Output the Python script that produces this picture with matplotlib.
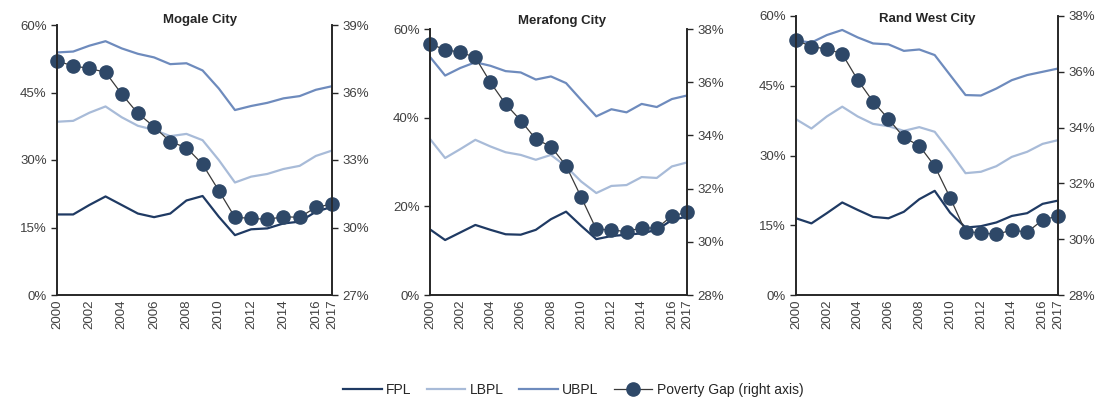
import matplotlib.pyplot as plt
import numpy as np
from matplotlib.ticker import FuncFormatter

plt.rcParams['font.family'] = ['Liberation Sans', 'DejaVu Sans']

years = list(range(2000, 2018))
xtick_years = [2000, 2002, 2004, 2006, 2008, 2010, 2012, 2014, 2016, 2017]

cities = ["Mogale City", "Merafong City", "Rand West City"]

mogale_fpl = [17.9, 17.9, 20.0, 21.9, 20.0, 18.1, 17.3, 18.1, 21.0, 22.0, 17.4, 13.3, 14.6, 14.8, 15.9, 16.3, 18.5, 19.6]
mogale_lbpl = [38.5, 38.7, 40.5, 41.9, 39.5, 37.6, 36.7, 35.3, 35.8, 34.4, 30.0, 25.0, 26.3, 26.9, 28.0, 28.7, 30.9, 32.1]
mogale_ubpl = [53.9, 54.1, 55.4, 56.4, 54.8, 53.6, 52.8, 51.3, 51.5, 49.9, 45.9, 41.1, 42.0, 42.7, 43.7, 44.2, 45.6, 46.4]
mogale_gap = [37.4, 37.18, 37.07, 36.9, 35.93, 35.07, 34.48, 33.81, 33.55, 32.81, 31.64, 30.45, 30.41, 30.36, 30.48, 30.45, 30.9, 31.04]

merafong_fpl = [14.8, 12.4, 14.1, 15.8, 14.7, 13.7, 13.6, 14.7, 17.1, 18.8, 15.6, 12.6, 13.3, 13.6, 13.9, 14.7, 16.9, 17.7]
merafong_lbpl = [35.2, 30.9, 32.9, 35.0, 33.5, 32.2, 31.6, 30.5, 31.6, 29.0, 25.6, 23.0, 24.6, 24.8, 26.6, 26.4, 29.0, 29.9]
merafong_ubpl = [53.7, 49.5, 51.2, 52.5, 51.7, 50.5, 50.2, 48.6, 49.3, 47.8, 44.0, 40.3, 41.9, 41.2, 43.1, 42.4, 44.2, 45.0]
merafong_gap = [37.44, 37.22, 37.13, 36.93, 35.99, 35.18, 34.56, 33.86, 33.58, 32.86, 31.68, 30.47, 30.45, 30.38, 30.53, 30.51, 30.97, 31.11]

randwest_fpl = [16.5, 15.4, 17.6, 19.9, 18.3, 16.8, 16.5, 17.9, 20.6, 22.4, 17.7, 14.5, 14.8, 15.6, 17.0, 17.6, 19.6, 20.3]
randwest_lbpl = [37.8, 35.8, 38.4, 40.5, 38.4, 36.8, 36.3, 35.3, 36.1, 35.1, 30.8, 26.2, 26.5, 27.7, 29.7, 30.8, 32.5, 33.3]
randwest_ubpl = [54.7, 54.3, 55.9, 57.0, 55.4, 54.1, 53.9, 52.5, 52.8, 51.6, 47.3, 43.0, 42.9, 44.4, 46.2, 47.3, 48.0, 48.7]
randwest_gap = [37.14, 36.9, 36.82, 36.64, 35.71, 34.93, 34.31, 33.65, 33.35, 32.62, 31.49, 30.27, 30.23, 30.17, 30.33, 30.25, 30.69, 30.83]

fpl = [mogale_fpl, merafong_fpl, randwest_fpl]
lbpl = [mogale_lbpl, merafong_lbpl, randwest_lbpl]
ubpl = [mogale_ubpl, merafong_ubpl, randwest_ubpl]
gap = [mogale_gap, merafong_gap, randwest_gap]

left_ticks = [[0, 15, 30, 45, 60], [0, 20, 40, 60], [0, 15, 30, 45, 60]]
right_ticks = [[27, 30, 33, 36, 39], [28, 30, 32, 34, 36, 38], [28, 30, 32, 34, 36, 38]]

c_fpl = "#1f3a63"
c_lbpl = "#a8bbd8"
c_ubpl = "#6e8bbd"
c_gap = "#2e4868"
txt = "#404040"

W, H = 1104, 403
# axes boxes in pixels: left, right, top, bottom
boxes = [(57, 332, 25, 295), (430, 687, 29, 295), (796, 1058, 16, 295)]
title_pos = [(200, 20), (562, 21), (927, 19)]

fig = plt.figure(figsize=(W / 100, H / 100), dpi=100)
pct = FuncFormatter(lambda v, p: f"{v:.0f}%")

for i in range(3):
    l, r, t, b = boxes[i]
    ax = fig.add_axes([l / W, 1 - b / H, (r - l) / W, (b - t) / H])
    ax2 = ax.twinx()
    ax.plot(years, fpl[i], color=c_fpl, lw=1.6, label="FPL")
    ax.plot(years, lbpl[i], color=c_lbpl, lw=1.6, label="LBPL")
    ax.plot(years, ubpl[i], color=c_ubpl, lw=1.6, label="UBPL")
    ax2.plot(years, gap[i], color="#3a3a3a", lw=0.9, marker="o", ms=9.5,
             mfc=c_gap, mec=c_gap, label="Poverty Gap (right axis)", clip_on=False)
    ax.set_xlim(2000, 2017)
    ax.set_ylim(left_ticks[i][0], left_ticks[i][-1])
    ax2.set_ylim(right_ticks[i][0], right_ticks[i][-1])
    ax.set_yticks(left_ticks[i])
    ax2.set_yticks(right_ticks[i])
    ax.yaxis.set_major_formatter(pct)
    ax2.yaxis.set_major_formatter(pct)
    ax.set_xticks(xtick_years)
    ax.set_xticklabels([str(y) for y in xtick_years], rotation=90)
    for a in (ax, ax2):
        a.spines["top"].set_visible(False)
        for s in a.spines.values():
            s.set_color("#262626")
            s.set_linewidth(1.2)
        a.tick_params(labelsize=9.5, colors="#262626", labelcolor=txt, width=1, length=4)
    ax.tick_params(axis="x", length=0, pad=3)
    ax2.set_zorder(ax.get_zorder() + 1)
    fig.text(title_pos[i][0] / W, 1 - title_pos[i][1] / H, cities[i], ha="center",
             va="center", fontsize=9.5, fontweight="bold", color="#262626")
    if i == 0:
        h1, l1 = ax.get_legend_handles_labels()
        h2, l2 = ax2.get_legend_handles_labels()

fig.legend(h1 + h2, l1 + l2, loc="center", bbox_to_anchor=(573 / W, 1 - 390 / H),
           ncol=4, frameon=False, fontsize=10, handlelength=2.8, columnspacing=1.1,
           handletextpad=0.3, labelcolor="#262626")

fig.savefig("out.png", dpi=100)
